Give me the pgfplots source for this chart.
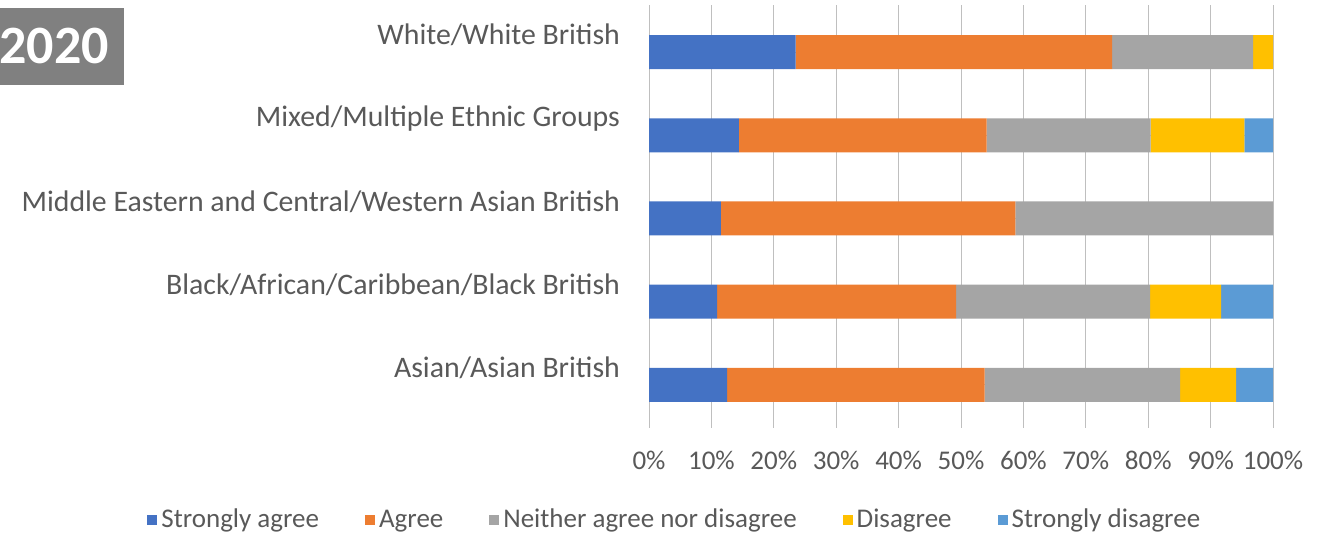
\documentclass[border=0pt]{standalone}
\usepackage{fontspec}
\setmainfont{Carlito}
\usepackage{pgfplots}
\pgfplotsset{compat=1.18}
\definecolor{cSA}{HTML}{4472C4}
\definecolor{cA}{HTML}{ED7D31}
\definecolor{cN}{HTML}{A5A5A5}
\definecolor{cD}{HTML}{FFC000}
\definecolor{cSD}{HTML}{5B9BD5}
\definecolor{txt}{HTML}{595959}
\definecolor{grid}{HTML}{DDDDDD}
\definecolor{boxg}{HTML}{808080}
\begin{document}
\begin{tikzpicture}
\useasboundingbox (0,0) rectangle (663.5pt,267.5pt);
\fill[boxg] (0pt,225pt) rectangle (62pt,263.5pt);
\node[text=white,font=\fontsize{27}{29}\selectfont\bfseries,anchor=center] at (27pt,244.5pt) {2020};
\begin{axis}[
  scale only axis,
  at={(324.5pt,53.5pt)}, anchor=south west,
  width=312pt, height=211.5pt,
  xbar stacked,
  bar width=17pt,
  xmin=0, xmax=100,
  ymin=-0.517, ymax=4.565,
  xtick={0,10,...,100},
  xticklabels={0\%,10\%,20\%,30\%,40\%,50\%,60\%,70\%,80\%,90\%,100\%},
  ytick={0,1,2,3,4},
  yticklabels={Asian/Asian British,Black/African/Caribbean/Black British,Middle Eastern and Central/Western Asian British,Mixed/Multiple Ethnic Groups,White/White British},
  xmajorgrids, major grid style={grid, line width=0.5pt},
  axis line style={draw=none},
  tick style={draw=none},
  ticklabel style={text=txt, font=\fontsize{13.5}{15}\selectfont},
  yticklabel style={anchor=east, xshift=-11pt, yshift=8.5pt, font=\fontsize{14.9}{16}\selectfont},
  xticklabel style={yshift=-8pt},
  legend columns=5,
  legend style={draw=none, fill=none, at={(axis description cs:0.043,-0.2175)}, anchor=center,
    font=\fontsize{13.5}{15}\selectfont, text=txt,
    /tikz/every even column/.append style={column sep=21pt},
    inner sep=0pt},
  legend image code/.code={\fill[#1] (0pt,-2.5pt) rectangle (5pt,2.5pt);},
]
\addplot[fill=cSA, draw=none] coordinates {(12.5,0) (10.9,1) (11.5,2) (14.4,3) (23.5,4)};
\addplot[fill=cA, draw=none] coordinates {(41.3,0) (38.3,1) (47.2,2) (39.7,3) (50.7,4)};
\addplot[fill=cN, draw=none] coordinates {(31.3,0) (31.1,1) (41.3,2) (26.3,3) (22.6,4)};
\addplot[fill=cD, draw=none] coordinates {(9.0,0) (11.4,1) (0,2) (15.0,3) (3.2,4)};
\addplot[fill=cSD, draw=none] coordinates {(5.9,0) (8.3,1) (0,2) (4.6,3) (0,4)};
\legend{Strongly agree,Agree,Neither agree nor disagree,Disagree,Strongly disagree}
\end{axis}
\end{tikzpicture}
\end{document}
